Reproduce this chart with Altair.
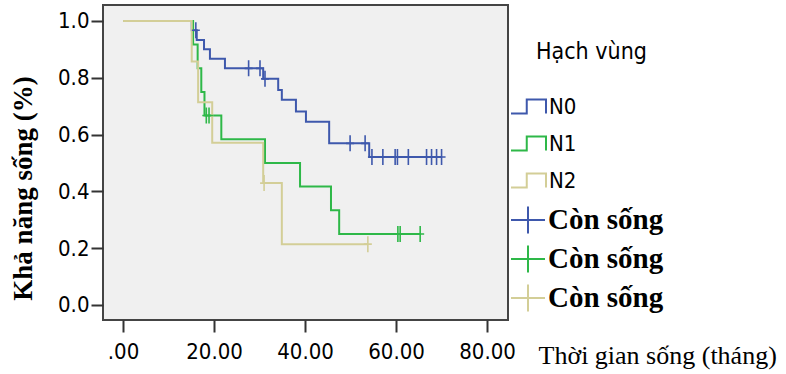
import altair as alt
import pandas as pd

# ---- data ----
groups = ["N0", "N1", "N2"]
colors = ["#3E58AC", "#2EB848", "#D3CE97"]

# event times (months) and survival right after each event
n0_t = [15.1, 16.2, 17.8, 19.1, 22.4, 30.8, 34.1, 34.9, 38.0, 40.2, 45.3, 54.1]
n0_s = [0.967, 0.933, 0.900, 0.867, 0.833, 0.796, 0.757, 0.722, 0.681, 0.645, 0.569, 0.521]
n0_end = 70.0
n0_ct = [16.0, 27.6, 30.1, 31.2, 49.9, 53.2, 54.7, 57.1, 59.8, 60.3, 62.7, 66.7, 67.8, 68.9, 70.0]
n0_cs = [0.967, 0.833, 0.833, 0.796, 0.569, 0.569, 0.521, 0.521, 0.521, 0.521, 0.521, 0.521, 0.521, 0.521, 0.521]

n1_t = [15.4, 16.4, 17.2, 17.9, 21.6, 31.2, 38.9, 45.7, 47.5]
n1_s = [0.917, 0.833, 0.750, 0.667, 0.583, 0.500, 0.417, 0.333, 0.250]
n1_end = 65.3
n1_ct = [18.3, 18.9, 60.4, 60.9, 65.3]
n1_cs = [0.667, 0.667, 0.250, 0.250, 0.250]

n2_t = [15.1, 16.5, 19.6, 30.8, 34.9]
n2_s = [0.857, 0.714, 0.571, 0.429, 0.214]
n2_end = 53.8
n2_ct = [31.0, 53.8]
n2_cs = [0.429, 0.214]

x_ticks = [0, 20, 40, 60, 80]
y_ticks = [0.0, 0.2, 0.4, 0.6, 0.8, 1.0]
censor_keys = ["c0", "c1", "c2"]

# ---- build tables ----
line_rows = []
cens_rows = []
for g, ck, t, s, end, ct, cs in [
    ("N0", "c0", n0_t, n0_s, n0_end, n0_ct, n0_cs),
    ("N1", "c1", n1_t, n1_s, n1_end, n1_ct, n1_cs),
    ("N2", "c2", n2_t, n2_s, n2_end, n2_ct, n2_cs),
]:
    line_rows.append({"t": 0.0, "s": 1.0, "g": g, "o": 0})
    for i, (ti, si) in enumerate(zip(t, s)):
        line_rows.append({"t": ti, "s": si, "g": g, "o": i + 1})
    line_rows.append({"t": end, "s": s[-1], "g": g, "o": len(t) + 1})
    for ti, si in zip(ct, cs):
        cens_rows.append({"t": ti, "s": si, "c": ck})

lines_df = pd.DataFrame(line_rows)
cens_df = pd.DataFrame(cens_rows)

NARROW = "Liberation Sans Narrow, Arial Narrow, DejaVu Sans Condensed, sans-serif"
SERIF = "Liberation Serif, Times New Roman, serif"

x_enc = alt.X(
    "t:Q",
    scale=alt.Scale(domain=[-4.4, 84.6], nice=False, zero=False),
    axis=alt.Axis(
        values=x_ticks,
        labelExpr="datum.value == 0 ? '.00' : format(datum.value, '.2f')",
        grid=False, domain=False,
        tickSize=12, tickWidth=2, tickColor="#333333",
        labelFont=NARROW, labelFontSize=22, labelColor="#000000", labelPadding=9,
        title="Thời gian sống (tháng)", titleFont=SERIF, titleFontSize=26,
        titleFontWeight="normal", titleColor="#000000",
        titleX=435, titleY=43, titleAlign="left", titleBaseline="alphabetic",
    ),
)
y_enc = alt.Y(
    "s:Q",
    scale=alt.Scale(domain=[-0.053, 1.056], nice=False, zero=False),
    axis=alt.Axis(
        values=y_ticks, format=".1f",
        grid=False, domain=False,
        tickSize=12, tickWidth=2, tickColor="#333333",
        labelFont=NARROW, labelFontSize=22, labelColor="#000000", labelPadding=2,
        title="Khả năng sống (%)", titleFont=SERIF, titleFontSize=27,
        titleFontWeight="bold", titleColor="#000000", titleAngle=270,
        titleX=-72, titleY=183, titleAlign="center", titleBaseline="alphabetic",
    ),
)

lines = alt.Chart(lines_df).mark_line(interpolate="step-after", strokeWidth=2).encode(
    x=x_enc,
    y=y_enc,
    order="o:Q",
    color=alt.Color(
        "g:N",
        scale=alt.Scale(domain=groups, range=colors),
        legend=alt.Legend(
            title=None, orient="none", legendX=407, legendY=83,
            symbolType="M-1,0.4H-0.1V-0.4H1V0.4", symbolSize=1225, symbolStrokeWidth=2,
            labelFont=NARROW, labelFontSize=22, labelColor="#000000",
            labelOffset=2, rowPadding=7, padding=0,
        ),
    ),
)

cens = alt.Chart(cens_df).mark_point(
    shape="M0,-1V1M-0.5,0H0.5", filled=False, size=256, strokeWidth=1.6, opacity=1
).encode(
    x="t:Q",
    y="s:Q",
    color=alt.Color(
        "c:N",
        scale=alt.Scale(domain=censor_keys, range=colors),
        legend=alt.Legend(
            title=None, orient="none", legendX=407, legendY=197,
            symbolType="M-1,0H1M0,-0.8V0.8", symbolSize=1156, symbolStrokeWidth=2,
            labelExpr="'Còn sống'",
            labelFont=SERIF, labelFontSize=29, labelFontWeight="bold", labelColor="#000000",
            labelOffset=2, rowPadding=3, padding=0,
        ),
    ),
)

chart = (
    alt.layer(lines, cens)
    .resolve_scale(color="independent")
    .properties(
        width=405, height=315,
        autosize=alt.AutoSizeParams(type="none"),
        padding={"left": 103, "top": 5, "right": 278, "bottom": 54},
        background="#FFFFFF",
        title=alt.TitleParams(
            text="Hạch vùng", anchor="start", frame="group", orient="top",
            font=NARROW, fontSize=23, fontWeight="normal", color="#000000",
            baseline="alphabetic", offset=0, dx=433, dy=77,
        ),
    )
    .configure_view(stroke="#444444", strokeWidth=2, fill="#F0F0F0")
)

chart.save("out.html", embed_options={"renderer": "svg", "actions": False})
